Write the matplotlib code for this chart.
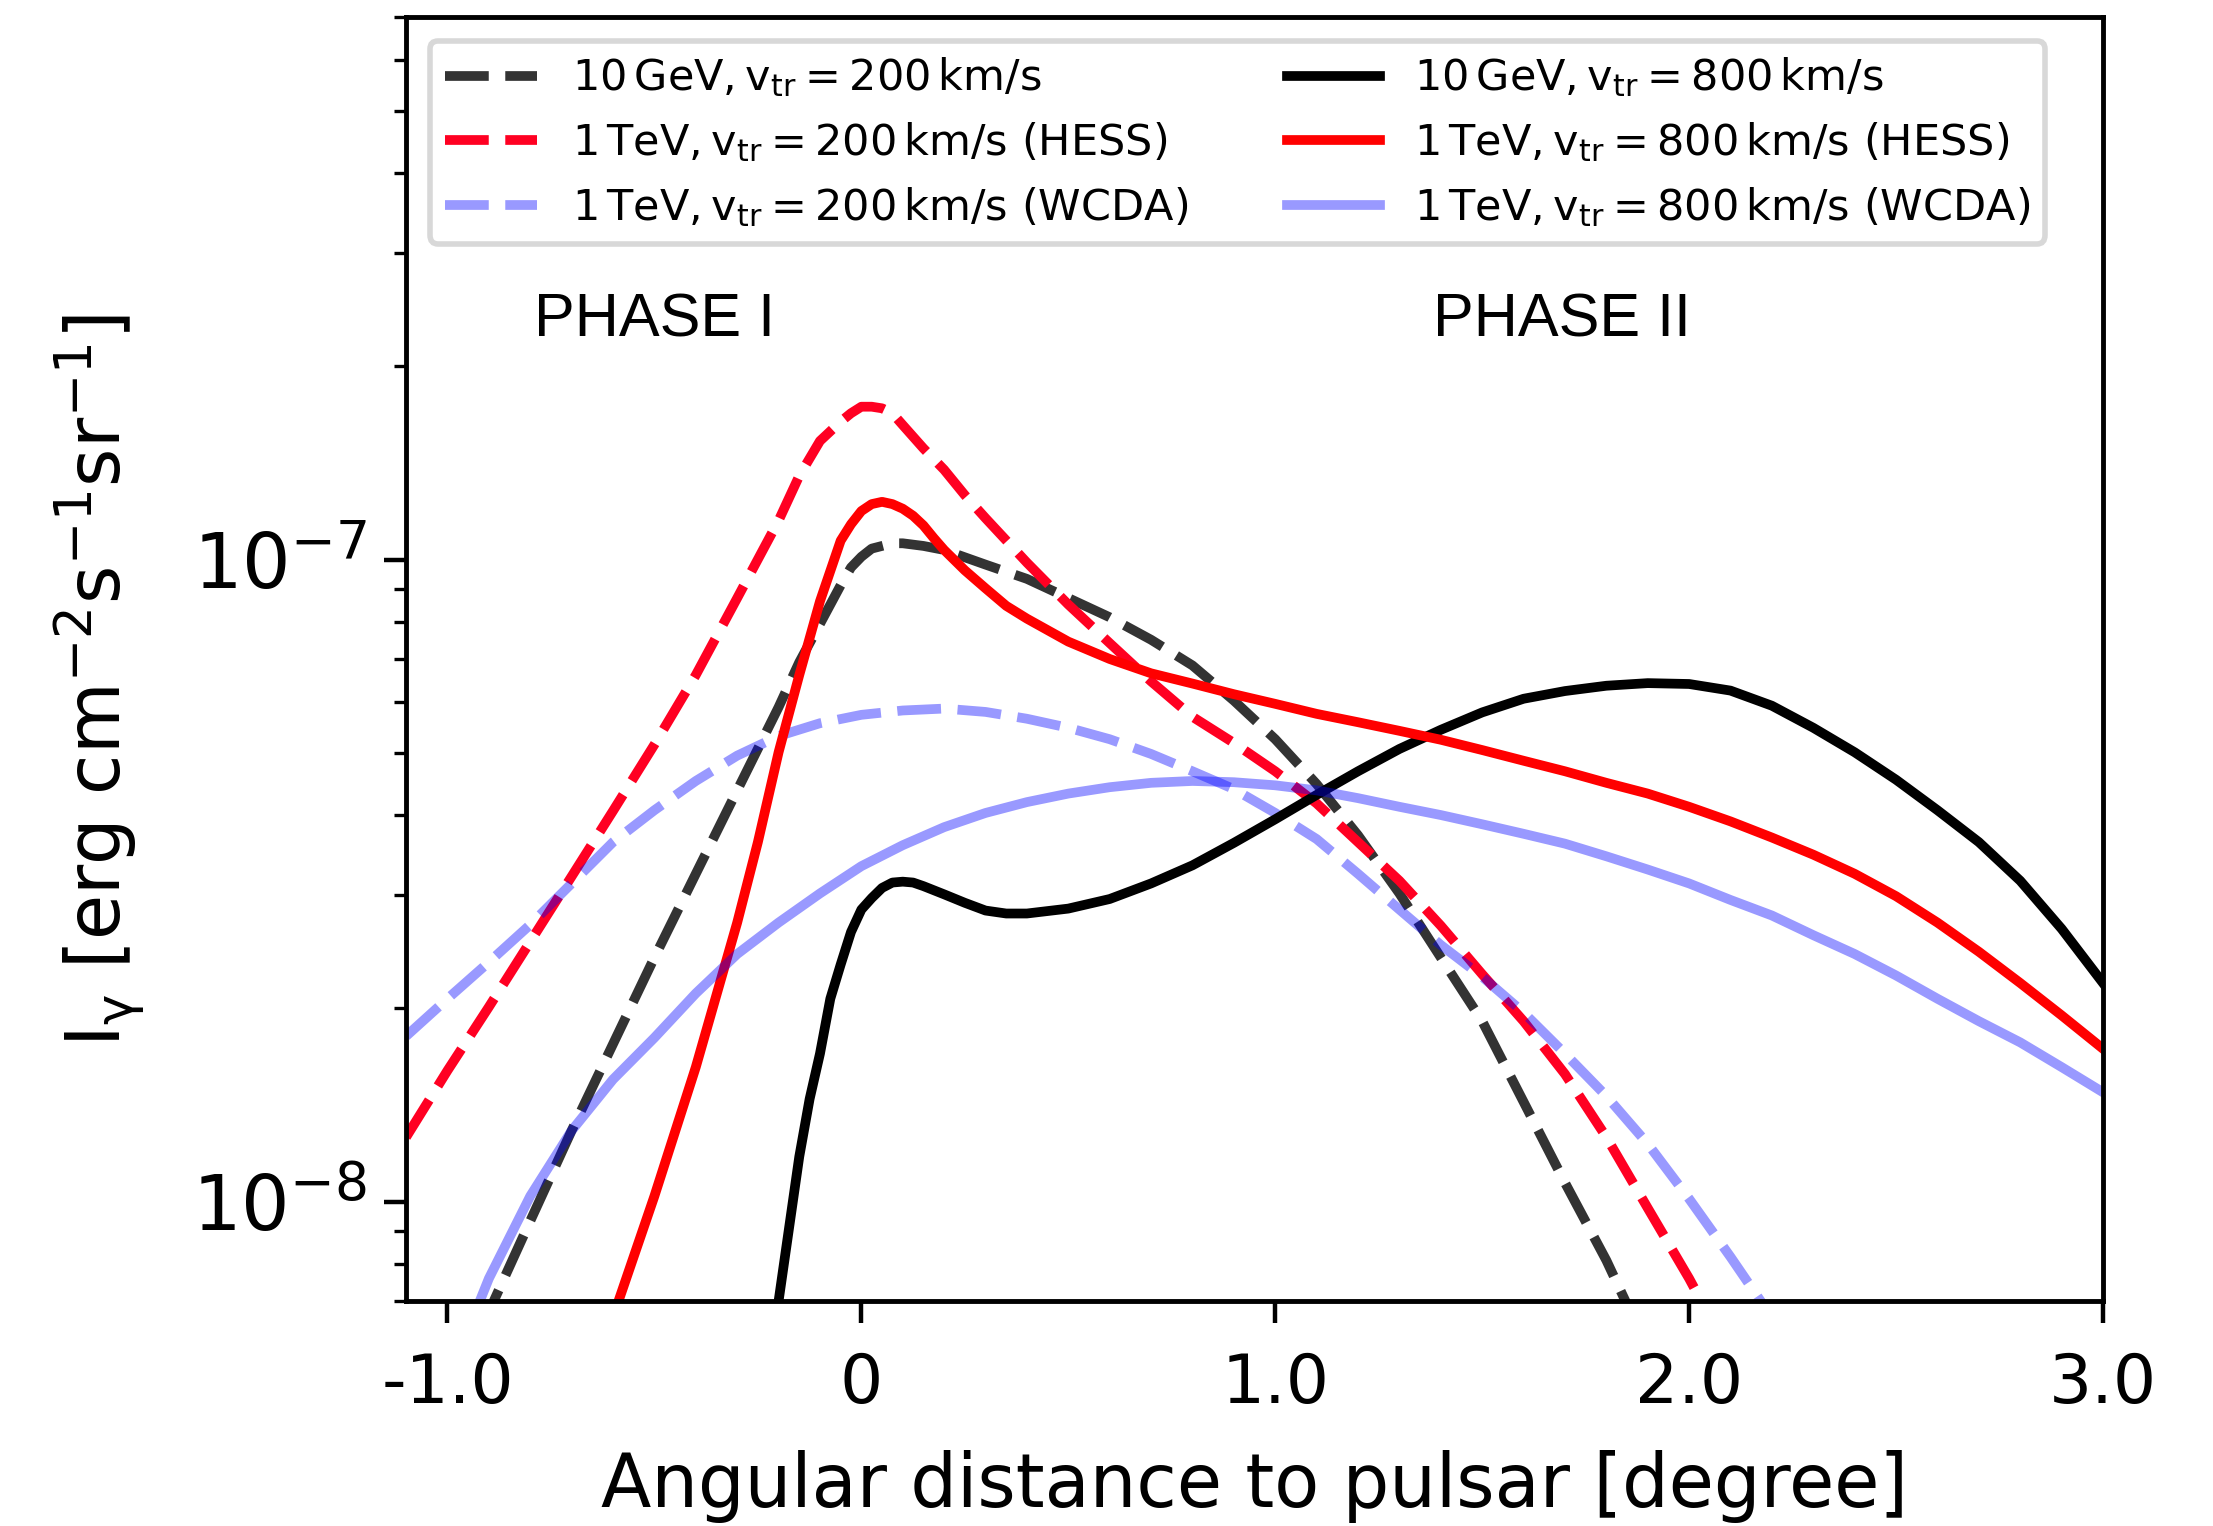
import matplotlib
matplotlib.use("Agg")
import matplotlib.pyplot as plt
from matplotlib.ticker import LogLocator, NullFormatter
import numpy as np

plt.rcParams['axes.unicode_minus'] = False
plt.rcParams['font.family'] = ['DejaVu Sans']

UNIT = 1e-8  # values below are in units of 1e-8 erg cm^-2 s^-1 sr^-1

# 10 GeV, v_tr = 200 km/s (dashed black)
x_gev200 = [-0.92, -0.8, -0.7, -0.6, -0.5, -0.4, -0.3, -0.2, -0.15, -0.1, -0.05, -0.025, 0.0,
            0.025, 0.05, 0.075, 0.1, 0.15, 0.2, 0.3, 0.4, 0.5, 0.6, 0.7, 0.8, 0.9, 1.0,
            1.1, 1.2, 1.3, 1.4, 1.5, 1.6, 1.7, 1.8, 1.9]
i_gev200 = [0.631, 0.933, 1.29, 1.76, 2.40, 3.24, 4.37, 5.89, 6.92, 7.94, 9.12, 9.72, 10.1,
            10.4, 10.5, 10.6, 10.6, 10.5, 10.35, 9.82, 9.33, 8.71, 8.13, 7.50, 6.84, 6.03,
            5.25, 4.47, 3.72, 3.02, 2.40, 1.91, 1.43, 1.07, 0.81, 0.59]

# 1 TeV, v_tr = 200 km/s (HESS) (dashed red)
x_hess200 = [-1.1, -1.0, -0.9, -0.8, -0.7, -0.6, -0.5, -0.4, -0.3, -0.2, -0.15, -0.1, -0.05,
             -0.025, 0.0, 0.025, 0.05, 0.075, 0.1, 0.15, 0.2, 0.25, 0.3, 0.4, 0.5, 0.6, 0.7,
             0.8, 0.9, 1.0, 1.1, 1.2, 1.3, 1.4, 1.5, 1.6, 1.7, 1.8, 1.9, 2.0, 2.05]
i_hess200 = [1.26, 1.60, 2.01, 2.54, 3.21, 4.06, 5.15, 6.61, 8.71, 11.5, 13.5, 15.3, 16.4,
             16.9, 17.3, 17.3, 17.2, 16.9, 16.2, 14.9, 13.8, 12.6, 11.6, 9.89, 8.51, 7.41,
             6.46, 5.69, 5.18, 4.68, 4.17, 3.63, 3.16, 2.69, 2.26, 1.91, 1.58, 1.26, 0.977,
             0.759, 0.661]

# 1 TeV, v_tr = 200 km/s (WCDA) (dashed blue)
x_wcda200 = [-1.1, -1.0, -0.9, -0.8, -0.7, -0.6, -0.5, -0.4, -0.3, -0.2, -0.1, 0.0, 0.1,
             0.2, 0.3, 0.4, 0.5, 0.6, 0.7, 0.8, 0.9, 1.0, 1.1, 1.2, 1.3, 1.4, 1.5, 1.6,
             1.7, 1.8, 1.9, 2.0, 2.1, 2.2]
i_wcda200 = [1.81, 2.07, 2.36, 2.70, 3.13, 3.63, 4.07, 4.52, 4.95, 5.31, 5.56, 5.73, 5.82,
             5.86, 5.79, 5.65, 5.47, 5.25, 4.98, 4.68, 4.39, 4.03, 3.67, 3.24, 2.85, 2.51,
             2.24, 1.97, 1.70, 1.46, 1.23, 1.01, 0.82, 0.66]

# 10 GeV, v_tr = 800 km/s (solid black)
x_gev800 = [-0.21, -0.18, -0.15, -0.125, -0.1, -0.075, -0.05, -0.025, 0.0, 0.025, 0.05, 0.075,
            0.1, 0.125, 0.15, 0.2, 0.25, 0.3, 0.35, 0.4, 0.5, 0.6, 0.7, 0.8, 0.9, 1.0, 1.1,
            1.2, 1.3, 1.4, 1.5, 1.6, 1.7, 1.8, 1.9, 2.0, 2.1, 2.2, 2.3, 2.4, 2.5, 2.6, 2.7,
            2.8, 2.9, 3.0]
i_gev800 = [0.631, 0.861, 1.175, 1.445, 1.70, 2.07, 2.34, 2.63, 2.85, 2.97, 3.08, 3.14,
            3.15, 3.14, 3.10, 3.01, 2.92, 2.84, 2.81, 2.81, 2.86, 2.96, 3.13, 3.34, 3.62,
            3.94, 4.30, 4.68, 5.07, 5.43, 5.78, 6.07, 6.24, 6.36, 6.42, 6.40, 6.25, 5.92,
            5.47, 5.01, 4.54, 4.07, 3.63, 3.16, 2.66, 2.19]

# 1 TeV, v_tr = 800 km/s (HESS) (solid red)
x_hess800 = [-0.6, -0.5, -0.4, -0.3, -0.25, -0.2, -0.15, -0.1, -0.05, -0.025, 0.0, 0.025, 0.05,
             0.075, 0.1, 0.125, 0.15, 0.175, 0.2, 0.25, 0.3, 0.35, 0.4, 0.5, 0.6, 0.7, 0.8,
             0.9, 1.0, 1.1, 1.2, 1.3, 1.4, 1.5, 1.6, 1.7, 1.8, 1.9, 2.0, 2.1, 2.2, 2.3, 2.4,
             2.5, 2.6, 2.7, 2.8, 2.9, 3.0]
i_hess800 = [0.661, 1.02, 1.62, 2.72, 3.63, 5.01, 6.61, 8.61, 10.7, 11.35, 11.9, 12.2, 12.3,
             12.2, 12.0, 11.7, 11.3, 10.8, 10.35, 9.62, 9.02, 8.47, 8.09, 7.45, 7.00, 6.65,
             6.41, 6.17, 5.96, 5.75, 5.58, 5.41, 5.24, 5.05, 4.86, 4.68, 4.49, 4.32, 4.12,
             3.91, 3.69, 3.47, 3.24, 2.99, 2.72, 2.45, 2.19, 1.95, 1.73]

# 1 TeV, v_tr = 800 km/s (WCDA) (solid blue)
x_wcda800 = [-0.95, -0.9, -0.8, -0.7, -0.6, -0.5, -0.4, -0.3, -0.2, -0.1, 0.0, 0.1, 0.2,
             0.3, 0.4, 0.5, 0.6, 0.7, 0.8, 0.9, 1.0, 1.1, 1.2, 1.3, 1.4, 1.5, 1.6, 1.7,
             1.8, 1.9, 2.0, 2.1, 2.2, 2.3, 2.4, 2.5, 2.6, 2.7, 2.8, 2.9, 3.0]
i_wcda800 = [0.631, 0.759, 1.02, 1.29, 1.55, 1.80, 2.11, 2.43, 2.72, 3.02, 3.33, 3.59, 3.83,
             4.03, 4.19, 4.32, 4.42, 4.49, 4.52, 4.50, 4.45, 4.37, 4.25, 4.12, 4.00, 3.87,
             3.74, 3.61, 3.45, 3.29, 3.13, 2.95, 2.79, 2.60, 2.43, 2.25, 2.07, 1.91, 1.77,
             1.62, 1.48]

labels = [
    r'$\mathrm{10\,GeV, v_{tr} = 200\,km/s}$',
    r'$\mathrm{1\,TeV, v_{tr} = 200\,km/s\ (HESS)}$',
    r'$\mathrm{1\,TeV, v_{tr} = 200\,km/s\ (WCDA)}$',
    r'$\mathrm{10\,GeV, v_{tr} = 800\,km/s}$',
    r'$\mathrm{1\,TeV, v_{tr} = 800\,km/s\ (HESS)}$',
    r'$\mathrm{1\,TeV, v_{tr} = 800\,km/s\ (WCDA)}$',
]
x_ticks = [-1.0, 0.0, 1.0, 2.0, 3.0]
x_ticklabels = ['-1.0', '0', '1.0', '2.0', '3.0']
phase_labels = ['PHASE I', 'PHASE II']
phase_x = [-0.79, 1.38]
phase_y = 2.35e-7

fig = plt.figure(figsize=(22.13, 15.26), dpi=100)
ax = fig.add_axes([0.1835, 0.1474, 0.7668, 0.8415])

LW = 7
dash = (0, (4.5, 1.7))
series = [
    (x_gev200, i_gev200, dict(color='#333333', ls=dash)),
    (x_hess200, i_hess200, dict(color='#ff0022', ls=dash)),
    (x_wcda200, i_wcda200, dict(color='blue', alpha=0.4, ls=dash)),
    (x_gev800, i_gev800, dict(color='black', ls='-')),
    (x_hess800, i_hess800, dict(color='#ff0000', ls='-')),
    (x_wcda800, i_wcda800, dict(color='blue', alpha=0.4, ls='-')),
]
for (xs, ys, st), lab in zip(series, labels):
    ax.plot(xs, np.array(ys) * UNIT, lw=LW, label=lab, **st)

ax.set_yscale('log')
ax.set_xlim(-1.1, 3.0)
ax.set_ylim(7.0e-9, 7.0e-7)

ax.set_xticks(x_ticks)
ax.set_xticklabels(x_ticklabels)
ax.yaxis.set_major_locator(LogLocator(base=10))
ax.yaxis.set_minor_locator(LogLocator(base=10, subs=np.arange(2, 10)))
ax.yaxis.set_minor_formatter(NullFormatter())

ax.tick_params(axis='x', which='major', direction='out', length=16, width=3.2,
               labelsize=49, pad=20)
ax.tick_params(axis='y', which='major', direction='out', length=16, width=3.2,
               labelsize=55, pad=12)
ax.tick_params(axis='y', which='minor', direction='out', length=9, width=2.4)
for sp in ax.spines.values():
    sp.set_linewidth(3.5)

ax.set_xlabel('Angular distance to pulsar [degree]', fontsize=53)
ax.xaxis.label.set_va('center')
ax.xaxis.set_label_coords(0.5, -0.1445)

fig.text(0.0447, 0.5537, r'$\mathrm{I_{\gamma}}$ [erg cm$^{-2}$s$^{-1}$sr$^{-1}$]',
         fontsize=53, rotation=90, ha='center', va='center')

for lab, px in zip(phase_labels, phase_x):
    ax.text(px, phase_y, lab, fontsize=44, family='Liberation Sans', va='center', ha='left')

leg = ax.legend(ncol=2, loc='upper left', fontsize=31, handlelength=2.15,
                handletextpad=0.8, columnspacing=2.3, labelspacing=0.48,
                borderpad=0.35, borderaxespad=0.55, fancybox=True, framealpha=1.0)
leg.get_frame().set_edgecolor('#d8d8d8')
leg.get_frame().set_linewidth(4)

fig.savefig('out.png', dpi=100)
